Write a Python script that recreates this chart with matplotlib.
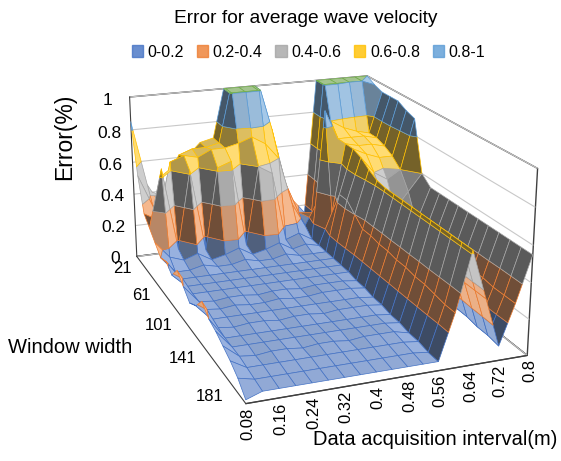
import numpy as np
import matplotlib
matplotlib.use("Agg")
import matplotlib.pyplot as plt
from matplotlib.colors import to_rgb
from matplotlib.patches import Patch
from mpl_toolkits.mplot3d.art3d import Poly3DCollection

plt.rcParams['font.family'] = ['Liberation Sans', 'DejaVu Sans']

# data acquisition interval (m) and window width
interval = [0.08, 0.12, 0.16, 0.20, 0.24, 0.28, 0.32, 0.36, 0.40, 0.44,
            0.48, 0.52, 0.56, 0.60, 0.64, 0.68, 0.72, 0.76, 0.80]
window = [21, 31, 41, 51, 61, 71, 81, 91, 101, 111, 121, 131, 141, 151,
          161, 171, 181, 191, 201]

# error values, one row per window width
error = [
    [0.85, 0.45, 0.30, 0.45, 0.60, 0.68, 0.70, 1.05, 1.05, 1.05, 0.80, 0.45, 0.25, 0.15, 1.05, 1.05, 1.05, 1.05, 1.00],
    [0.55, 0.35, 0.40, 0.65, 0.68, 0.68, 0.70, 1.05, 1.05, 1.05, 0.75, 0.40, 0.20, 0.15, 1.05, 1.05, 1.00, 1.00, 0.97],
    [0.35, 0.30, 0.65, 0.68, 0.66, 0.70, 0.70, 0.72, 0.75, 0.70, 0.60, 0.30, 0.15, 0.30, 0.80, 0.75, 0.72, 0.70, 0.95],
    [0.30, 0.65, 0.15, 0.62, 0.12, 0.62, 0.65, 0.12, 0.60, 0.55, 0.12, 0.15, 0.10, 0.90, 0.72, 0.72, 0.72, 0.70, 0.95],
    [0.25, 0.15, 0.12, 0.15, 0.10, 0.12, 0.15, 0.10, 0.12, 0.15, 0.10, 0.12, 0.10, 0.30, 0.72, 0.70, 0.70, 0.68, 0.95],
    [0.20, 0.10, 0.10, 0.12, 0.10, 0.10, 0.12, 0.10, 0.10, 0.12, 0.10, 0.10, 0.10, 0.45, 0.72, 0.68, 0.65, 0.65, 0.92],
    [0.22, 0.10, 0.10, 0.10, 0.10, 0.10, 0.10, 0.10, 0.10, 0.10, 0.10, 0.10, 0.10, 0.45, 0.70, 0.60, 0.55, 0.60, 0.90],
    [0.18, 0.10, 0.10, 0.10, 0.10, 0.10, 0.10, 0.10, 0.10, 0.10, 0.10, 0.10, 0.10, 0.40, 0.66, 0.50, 0.40, 0.50, 0.60],
    [0.25, 0.10, 0.10, 0.10, 0.10, 0.10, 0.10, 0.10, 0.10, 0.10, 0.10, 0.10, 0.10, 0.35, 0.63, 0.40, 0.15, 0.35, 0.55],
    [0.20, 0.10, 0.09, 0.10, 0.10, 0.09, 0.10, 0.10, 0.09, 0.10, 0.10, 0.10, 0.09, 0.35, 0.62, 0.38, 0.12, 0.33, 0.55],
    [0.15, 0.10, 0.09, 0.10, 0.09, 0.09, 0.10, 0.09, 0.09, 0.10, 0.10, 0.10, 0.09, 0.34, 0.62, 0.38, 0.12, 0.33, 0.55],
    [0.18, 0.09, 0.09, 0.09, 0.09, 0.09, 0.09, 0.09, 0.09, 0.09, 0.09, 0.09, 0.08, 0.34, 0.62, 0.37, 0.11, 0.32, 0.55],
    [0.25, 0.09, 0.08, 0.09, 0.09, 0.08, 0.09, 0.09, 0.08, 0.09, 0.09, 0.09, 0.08, 0.33, 0.62, 0.37, 0.11, 0.32, 0.55],
    [0.20, 0.08, 0.08, 0.08, 0.08, 0.08, 0.08, 0.08, 0.08, 0.08, 0.08, 0.08, 0.07, 0.33, 0.62, 0.36, 0.10, 0.32, 0.55],
    [0.18, 0.08, 0.08, 0.08, 0.08, 0.08, 0.08, 0.08, 0.08, 0.08, 0.08, 0.08, 0.07, 0.32, 0.62, 0.36, 0.10, 0.31, 0.55],
    [0.15, 0.08, 0.07, 0.08, 0.08, 0.07, 0.08, 0.08, 0.07, 0.08, 0.08, 0.08, 0.06, 0.32, 0.62, 0.36, 0.10, 0.31, 0.55],
    [0.12, 0.07, 0.07, 0.07, 0.07, 0.07, 0.07, 0.07, 0.07, 0.07, 0.07, 0.07, 0.06, 0.31, 0.62, 0.35, 0.09, 0.30, 0.55],
    [0.08, 0.06, 0.06, 0.06, 0.06, 0.06, 0.06, 0.06, 0.06, 0.06, 0.06, 0.06, 0.05, 0.30, 0.62, 0.35, 0.09, 0.30, 0.55],
    [0.02, 0.05, 0.05, 0.05, 0.05, 0.05, 0.05, 0.05, 0.05, 0.05, 0.05, 0.05, 0.05, 0.30, 0.62, 0.35, 0.08, 0.30, 0.55],
]

band_labels = ['0-0.2', '0.2-0.4', '0.4-0.6', '0.6-0.8', '0.8-1']
band_colors = ['#4472C4', '#ED7D31', '#A5A5A5', '#FFC000', '#5B9BD5']
top_color = '#70AD47'
band_edges = [-1, 0.2, 0.4, 0.6, 0.8, 1.0, 99]
z_ticks = [0, 0.2, 0.4, 0.6, 0.8, 1]
x_ticks = [0.08, 0.16, 0.24, 0.32, 0.4, 0.48, 0.56, 0.64, 0.72, 0.8]
y_ticks = [21, 61, 101, 141, 181]

box = (1.0, 1.4, 0.66)
light = np.array([0.55, -0.45, 0.7])
light = light / np.linalg.norm(light)


def clip(poly, level, above):
    # Sutherland-Hodgman against the plane z = level
    out = []
    n = len(poly)
    for k in range(n):
        p, q = poly[k], poly[(k + 1) % n]
        pin = p[2] >= level if above else p[2] <= level
        qin = q[2] >= level if above else q[2] <= level
        if pin:
            out.append(p)
        if pin != qin:
            t = (level - p[2]) / (q[2] - p[2])
            out.append(p + t * (q - p))
    return out


def shade(color, poly):
    pts = np.array(poly)
    # normal in box units, so the axis scales don't bend it
    sx = box[0] / (interval[-1] - interval[0])
    sy = -box[1] / (window[-1] - window[0])
    sz = box[2]
    q = pts * [sx, sy, sz]
    nrm = np.zeros(3)
    for k in range(len(q)):
        a, b = q[k], q[(k + 1) % len(q)]
        nrm += [(a[1] - b[1]) * (a[2] + b[2]), (a[2] - b[2]) * (a[0] + b[0]),
                (a[0] - b[0]) * (a[1] + b[1])]
    if np.linalg.norm(nrm) == 0:
        s = 1.0
    else:
        nrm /= np.linalg.norm(nrm)
        if nrm[2] < 0:
            nrm = -nrm
        s = np.clip(np.dot(nrm, light) * 1.25, 0, 1)
    base = np.array(to_rgb(color))
    lit = base * 0.55 + 0.45
    dark = base * 0.3 + 0.16
    return tuple(dark + (lit - dark) * s)


Z = np.array(error)
polys, fcs, ecs = [], [], []
for j in range(len(window) - 1):
    for i in range(len(interval) - 1):
        quad = [np.array([interval[i], window[j], Z[j, i]]),
                np.array([interval[i + 1], window[j], Z[j, i + 1]]),
                np.array([interval[i + 1], window[j + 1], Z[j + 1, i + 1]]),
                np.array([interval[i], window[j + 1], Z[j + 1, i]])]
        for b in range(6):
            part = clip(quad, band_edges[b], True)
            if len(part) < 3:
                continue
            part = clip(part, band_edges[b + 1], False)
            if len(part) < 3:
                continue
            part = [np.array([p[0], p[1], min(p[2], 1.0)]) for p in part]
            col = band_colors[b] if b < 5 else top_color
            polys.append(part)
            fcs.append(shade(col, part))
            ecs.append(col)

fig = plt.figure(figsize=(5.61, 4.61), dpi=100)
ax = fig.add_axes([0.03, 0.015, 1.04, 1.0], projection='3d')
ax.set_proj_type('persp', focal_length=0.55)

coll = Poly3DCollection(polys, facecolors=fcs, edgecolors=ecs, linewidths=0.5)
ax.add_collection3d(coll)

ax.set_xlim(0.08, 0.8)
ax.set_ylim(201, 21)
ax.set_zlim(0, 1)
ax.set_box_aspect(box, zoom=1.07)
ax.view_init(elev=19, azim=-111)

ax.set_xticks(x_ticks)
ax.set_xticklabels([f'{v:g}' for v in x_ticks], rotation=90, fontsize=12,
                   ha='right', va='center', rotation_mode='anchor')
ax.set_yticks(y_ticks)
ax.set_yticklabels([str(v) for v in y_ticks], fontsize=12, ha='right')
ax.set_zticks(z_ticks)
ax.set_zticklabels([f'{v:g}' for v in z_ticks], fontsize=12.5)
ax.tick_params(axis='x', pad=-6)
ax.tick_params(axis='y', pad=-4)

for axis in (ax.xaxis, ax.yaxis, ax.zaxis):
    axis.set_pane_color((1, 1, 1, 1))
    axis.pane.set_edgecolor('#404040')
    axis.line.set_color('#404040')
    axis._axinfo['tick']['inward_factor'] = 0
    axis._axinfo['tick']['outward_factor'] = 0
ax.zaxis._axinfo['grid'].update(color='#c8c8c8', linewidth=0.8)
ax.xaxis._axinfo['grid'].update(color=(1, 1, 1, 0), linewidth=0)
ax.yaxis._axinfo['grid'].update(color=(1, 1, 1, 0), linewidth=0)

fig.text(0.545, 0.96, 'Error for average wave velocity', ha='center', va='center', fontsize=13.8)
handles = [Patch(facecolor=c, edgecolor=c, alpha=0.8) for c in band_colors]
fig.legend(handles, band_labels, loc='center', bbox_to_anchor=(0.55, 0.887), ncol=5,
           frameon=False, fontsize=11.5, handlelength=0.7, handleheight=0.7,
           handletextpad=0.3, columnspacing=0.8)
fig.text(0.116, 0.703, 'Error(%)', rotation=90, ha='center', va='center', fontsize=16.5)
fig.text(0.125, 0.247, 'Window width', ha='center', va='center', fontsize=14.5)
fig.text(0.775, 0.046, 'Data acquisition interval(m)', ha='center', va='center', fontsize=14.5)

fig.savefig('out.png', dpi=100)
